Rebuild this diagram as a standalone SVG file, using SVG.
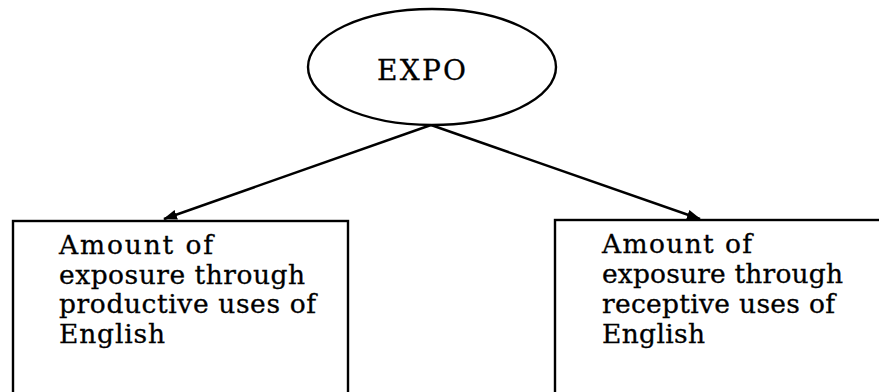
<svg xmlns="http://www.w3.org/2000/svg" width="879" height="392" viewBox="0 0 879 392">
  <style>
    .shape { fill: #ffffff; stroke: #000000; stroke-width: 2.4; }
    .label { font-family: "DejaVu Serif", "Liberation Serif", serif; font-size: 26.5px; fill: #000000; stroke: #000000; stroke-width: 0.3; }
    .edge { fill: none; stroke: #000000; stroke-width: 2.4; }
  </style>
  <defs>
    <marker id="arrow" viewBox="0 0 14 10" refX="13" refY="5" markerWidth="14" markerHeight="10" markerUnits="userSpaceOnUse" orient="auto">
      <path d="M0,0 L14,5 L0,10 Z" fill="#000000"/>
    </marker>
  </defs>
  <rect width="879" height="392" fill="#ffffff"/>

  <g id="connectors">
    <line class="edge" x1="431" y1="125" x2="164" y2="219" marker-end="url(#arrow)"/>
    <line class="edge" x1="431" y1="125" x2="700" y2="219" marker-end="url(#arrow)"/>
  </g>

  <g id="node-expo">
    <ellipse class="shape" cx="432" cy="67" rx="124" ry="58"/>
    <text class="label" x="377" y="80" textLength="89" style="font-size:28px">EXPO</text>
  </g>

  <g id="node-productive">
    <rect class="shape" x="13" y="221" width="335" height="190"/>
    <text class="label" x="59" y="254" textLength="154">Amount of</text>
    <text class="label" x="59" y="284" textLength="246">exposure through</text>
    <text class="label" x="59" y="313" textLength="257">productive uses of</text>
    <text class="label" x="59" y="343" textLength="106">English</text>
  </g>

  <g id="node-receptive">
    <rect class="shape" x="555" y="220" width="340" height="190"/>
    <text class="label" x="602" y="253" textLength="150">Amount of</text>
    <text class="label" x="602" y="283" textLength="241">exposure through</text>
    <text class="label" x="602" y="313" textLength="233">receptive uses of</text>
    <text class="label" x="602" y="343" textLength="103">English</text>
  </g>
</svg>
